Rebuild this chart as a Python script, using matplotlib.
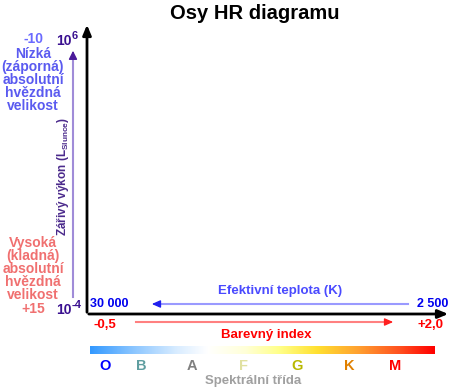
import numpy as np
import matplotlib
matplotlib.use("Agg")
from matplotlib import pyplot as plt
from matplotlib.colors import LinearSegmentedColormap

plt.rcParams['font.family'] = ['Liberation Sans', 'DejaVu Sans']

W, H = 451, 392

title = "Osy HR diagramu"
lum_base = "10"
lum_top_exp, lum_bottom_exp = "6", "-4"
mag_top, mag_bottom = "-10", "+15"
mag_low_text = "Nízká\n(záporná)\nabsolutní\nhvězdná\nvelikost"
mag_high_text = "Vysoká\n(kladná)\nabsolutní\nhvězdná\nvelikost"
lum_label = r"Zářivý výkon (L$_{\mathregular{Slunce}}$)"
temp_hot, temp_cool = "30 000", "2 500"
temp_label = "Efektivní teplota (K)"
ci_blue, ci_red = "-0,5", "+2,0"
ci_label = "Barevný index"
spec_label = "Spektrální třída"

classes = ["O", "B", "A", "F", "G", "K", "M"]
class_x = [105, 141, 192, 244, 297, 349, 395]
class_colors = ["#0000ff", "#5f9ea0", "#808080", "#e0e0a0", "#b8b800", "#e08000", "#ff0000"]

grad_pos = [0.0, 0.12, 0.25, 0.34, 0.45, 0.55, 0.66, 0.78, 0.9, 1.0]
grad_cols = ["#3399ff", "#88c4ff", "#d8ecff", "#ffffff", "#ffffd8", "#ffff88",
             "#ffe030", "#ffa030", "#ff5020", "#ff0000"]

fig = plt.figure(figsize=(W / 100, H / 100), dpi=100)
ax = fig.add_axes([0, 0, 1, 1])
ax.set_xlim(0, W)
ax.set_ylim(H, 0)
ax.axis('off')

ax.text(255, 13, title, ha='center', va='center', fontsize=14.5, fontweight='bold')

# main axes
ax.annotate("", xy=(87, 22), xytext=(87, 315),
            arrowprops=dict(arrowstyle='-|>,head_length=0.6,head_width=0.25', color='black', lw=2))
ax.annotate("", xy=(451, 314), xytext=(86, 314),
            arrowprops=dict(arrowstyle='-|>,head_length=0.6,head_width=0.25', color='black', lw=2))

# luminosity
ax.plot([73, 73], [297, 58], color='#a08cd8', lw=1.5)
ax.annotate("", xy=(73, 48), xytext=(73, 60),
            arrowprops=dict(arrowstyle='-|>,head_length=0.5,head_width=0.25', color='#4b1a9a', lw=1))
for y, e in [(41, lum_top_exp), (310, lum_bottom_exp)]:
    ax.text(72, y, lum_base, ha='right', va='center', fontsize=10, fontweight='bold', color='#3a1090')
    ax.text(72, y - 5, e, ha='left', va='center', fontsize=8, fontweight='bold', color='#3a1090')
ax.text(63, 176, lum_label, ha='center', va='center', rotation=90, fontsize=8.5,
        fontweight='bold', color='#4b2a8c')

# magnitude
ax.text(33, 39, mag_top, ha='center', va='center', fontsize=10, fontweight='bold', color='#6a6aff')
ax.text(33, 80, mag_low_text, ha='center', va='center', fontsize=10, fontweight='bold',
        color='#5a5af0', linespacing=0.92)
ax.text(33, 269, mag_high_text, ha='center', va='center', fontsize=10, fontweight='bold',
        color='#f07070', linespacing=0.92)
ax.text(33, 309, mag_bottom, ha='center', va='center', fontsize=10, fontweight='bold', color='#f07070')

# temperature
ax.text(109, 304, temp_hot, ha='center', va='center', fontsize=9, fontweight='bold', color='#0000ee')
ax.text(433, 304, temp_cool, ha='center', va='center', fontsize=9, fontweight='bold', color='#0000ee')
ax.text(280, 291, temp_label, ha='center', va='center', fontsize=9.5, fontweight='bold', color='#4a4aff')
ax.plot([408, 158], [304, 304], color='#9a9aff', lw=1.5)
ax.annotate("", xy=(149, 304), xytext=(160, 304),
            arrowprops=dict(arrowstyle='-|>,head_length=0.5,head_width=0.22', color='#2020ee', lw=1))

# colour index
ax.text(105, 325, ci_blue, ha='center', va='center', fontsize=9.5, fontweight='bold', color='#ff0000')
ax.text(430, 325, ci_red, ha='center', va='center', fontsize=9.5, fontweight='bold', color='#ff0000')
ax.text(266, 335, ci_label, ha='center', va='center', fontsize=9.5, fontweight='bold', color='#ff0000')
ax.plot([136, 388], [322, 322], color='#ff8080', lw=1.5)
ax.annotate("", xy=(396, 322), xytext=(385, 322),
            arrowprops=dict(arrowstyle='-|>,head_length=0.5,head_width=0.22', color='#ff2020', lw=1))

# spectral gradient
cmap = LinearSegmentedColormap.from_list("spec", list(zip(grad_pos, grad_cols)))
ax.imshow(np.linspace(0, 1, 256).reshape(1, -1), cmap=cmap, aspect='auto',
          extent=(90, 435, 354, 346), zorder=1)
for lab, x, c in zip(classes, class_x, class_colors):
    ax.text(x, 366, lab, ha='center', va='center', fontsize=10.5, fontweight='bold', color=c)
ax.text(253, 381, spec_label, ha='center', va='center', fontsize=9.5, fontweight='bold', color='#a0a0a0')

ax.set_xlim(0, W)
ax.set_ylim(H, 0)
fig.savefig("out.png", dpi=100)
